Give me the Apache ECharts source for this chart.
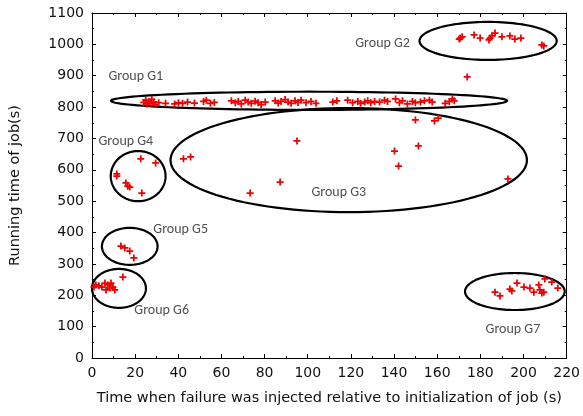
<!DOCTYPE html>
<html><head><meta charset="utf-8">
<script src="https://cdn.jsdelivr.net/npm/echarts@6/dist/echarts.min.js"></script>
<style>html,body{margin:0;padding:0;background:#fff}#c{width:583px;height:416px}</style>
</head><body><div id="c"></div>
<script>
// ---- Data ----
const g1x = [24.0,24.9,25.4,26.3,27.2,27.7,28.6,29.5,30.9,34.1,38.3,40.1,42.0,44.3,47.5,51.7,53.0,54.9,56.7,64.6,66.4,67.8,69.2,71.0,72.4,73.8,75.6,77.0,78.4,80.3,84.9,86.3,87.6,89.5,90.9,92.3,94.1,95.5,96.9,99.2,101.5,103.8,111.6,113.5,118.5,120.8,123.2,124.5,126.4,127.8,129.2,131.0,133.3,135.6,137.0,140.7,142.5,143.9,146.2,148.5,149.9,152.2,154.1,156.4,157.7,163.7,165.6,167.0,167.9];
const g1y = [815,822,810,818,812,825,816,808,814,812,810,814,812,816,813,818,822,812,815,820,814,818,810,822,816,812,819,814,808,816,820,813,818,824,816,812,820,815,822,814,818,812,816,820,822,814,818,812,816,820,814,818,816,822,818,826,814,820,810,818,814,816,820,822,816,812,818,826,820];
const g2x = [170.2,170.7,171.6,173.9,177.1,179.9,184.0,184.5,185.4,186.8,190.0,193.7,196.0,198.8,208.5,209.4];
const g2y = [1017,1020,1024,896,1030,1020,1014,1020,1027,1036,1024,1027,1017,1020,998,995];
const g3x = [42.4,45.7,73.3,87.2,95.0,140.2,142.1,149.9,151.3,158.7,160.5,192.8];
const g3y = [635,641,526,561,692,660,612,759,676,756,765,571];
const g4x = [11.5,11.5,15.7,16.6,17.5,22.6,23.1,29.5];
const g4y = [587,580,558,548,545,635,526,622];
const g5x = [13.4,15.2,17.5,19.4];
const g5y = [357,351,341,319];
const g6x = [0.9,1.8,3.2,4.6,6.0,6.5,7.4,8.3,8.8,9.7,10.6,14.3];
const g6y = [226,233,230,226,239,217,233,223,239,226,217,258];
const g7x = [186.8,189.1,193.7,194.6,197.0,200.2,203.0,204.8,207.1,207.6,208.5,209.4,209.9,213.1,215.9];
const g7y = [210,198,220,214,239,226,223,210,233,217,207,210,252,242,223];

const groupNames = ['Group G1','Group G2','Group G3','Group G4','Group G5','Group G6','Group G7'];
const ellipseCx = [100.6,183.6,119.0,21.4,17.5,12.5,196.0];
const ellipseCy = [820,1011,631,580,356,222,212];
const ellipseRx = [91.8,31.8,82.6,12.7,12.9,12.5,23.1];
const ellipseRy = [29,60.6,166,80,59,62,59];
const labelX = [20.3,134.7,114.4,15.7,41.1,32.3,195.1];
const labelY = [899,1004,529,689,411,153,92];

const xTicks = [0,20,40,60,80,100,120,140,160,180,200,220];
const yTicks = [0,100,200,300,400,500,600,700,800,900,1000,1100];

// ---- Build ----
const pts = [];
[[g1x,g1y],[g2x,g2y],[g3x,g3y],[g4x,g4y],[g5x,g5y],[g6x,g6y],[g7x,g7y]].forEach(([xs,ys])=>{
  xs.forEach((x,i)=>pts.push([x,ys[i]]));
});
const ellData = ellipseCx.map((cx,i)=>[cx,ellipseCy[i],ellipseRx[i],ellipseRy[i]]);
const lblData = labelX.map((x,i)=>({value:[x,labelY[i]],name:groupNames[i]}));

const font = 'DejaVu Sans, sans-serif';
const axisCommon = {
  axisLine:{show:true,onZero:false,lineStyle:{color:'#000',width:1}},
  axisTick:{show:true,inside:true,length:4,lineStyle:{color:'#000'}},
  minorTick:{show:true,splitNumber:2,length:2,lineStyle:{color:'#000'}},
  splitLine:{show:false}
};
const chart = echarts.init(document.getElementById('c'));
chart.setOption({
  animation:false,
  grid:{left:92,right:13,top:13,bottom:58,containLabel:false},
  xAxis:[
    Object.assign({type:'value',min:0,max:220,interval:20,position:'bottom',
      name:'Time when failure was injected relative to initialization of job (s)',
      nameLocation:'middle',nameGap:33,nameTextStyle:{fontFamily:font,fontSize:14.5,color:'#111'},
      axisLabel:{fontFamily:font,fontSize:14,color:'#111',margin:8,formatter:v=>xTicks.includes(v)?String(v):''}},axisCommon),
    Object.assign({type:'value',min:0,max:220,interval:20,position:'top',axisLabel:{show:false}},axisCommon)
  ],
  yAxis:[
    Object.assign({type:'value',min:0,max:1100,interval:100,position:'left',
      name:'Running time of job(s)',nameLocation:'middle',nameGap:69,
      nameTextStyle:{fontFamily:font,fontSize:14.5,color:'#111'},
      axisLabel:{fontFamily:font,fontSize:14,color:'#111',margin:8,formatter:v=>yTicks.includes(v)?String(v):''}},axisCommon),
    Object.assign({type:'value',min:0,max:1100,interval:100,position:'right',axisLabel:{show:false}},axisCommon)
  ],
  series:[
    {
      type:'custom',clip:false,silent:true,
      data:ellData,encode:{x:0,y:1},
      renderItem:function(params,api){
        const cx=api.value(0),cy=api.value(1),rx=api.value(2),ry=api.value(3);
        const p=[];
        for(let k=0;k<=120;k++){
          const t=k/120*Math.PI*2;
          p.push(api.coord([cx+rx*Math.cos(t),cy+ry*Math.sin(t)]));
        }
        return {type:'polygon',shape:{points:p},style:{fill:null,stroke:'#000',lineWidth:2.2}};
      },
      z:1
    },
    {
      type:'scatter',data:pts,
      symbol:'path://M3,0H5V3H8V5H5V8H3V5H0V3H3Z',symbolSize:7,
      itemStyle:{color:'#f00000',opacity:1},z:3
    },
    {
      type:'scatter',data:lblData,symbolSize:0,silent:true,
      label:{show:true,position:'inside',formatter:'{b}',fontFamily:'Carlito, Calibri, Lato, sans-serif',fontSize:14,color:'#222'},
      z:4
    }
  ]
});
</script></body></html>
